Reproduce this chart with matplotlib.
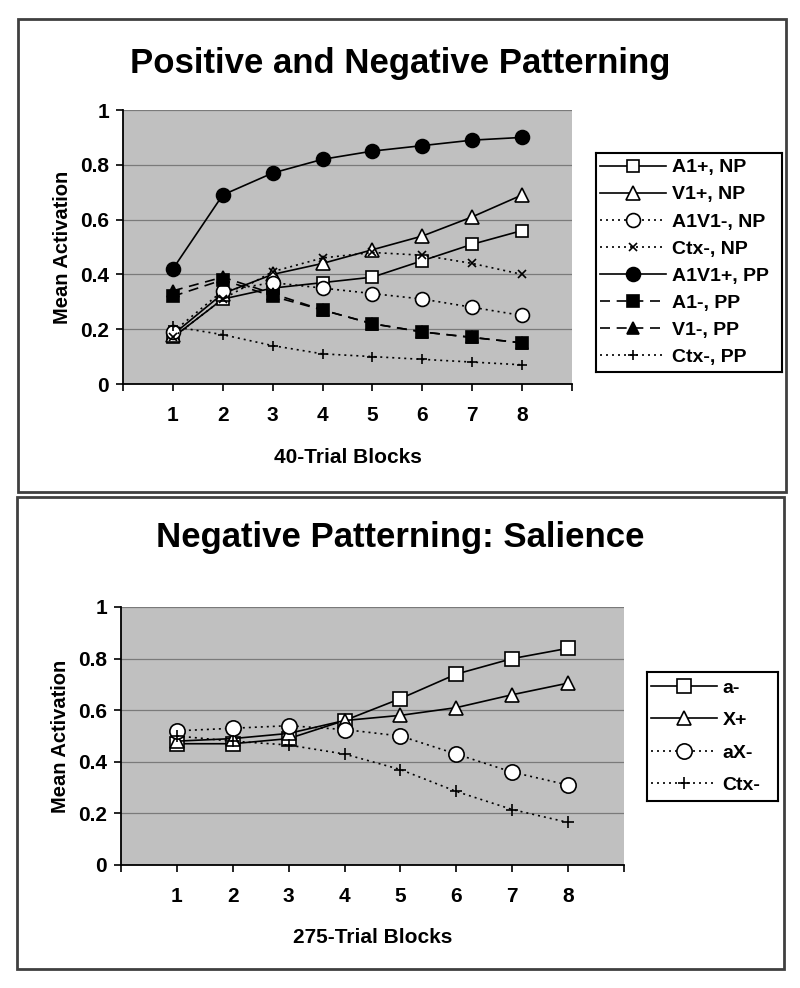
import matplotlib
matplotlib.use('Agg')
import matplotlib.pyplot as plt
from matplotlib.patches import Rectangle

plt.rcParams['font.family'] = ['Liberation Sans', 'DejaVu Sans']
plt.rcParams['font.weight'] = 'bold'

blocks = [1, 2, 3, 4, 5, 6, 7, 8]

# top panel: positive and negative patterning
top_labels = ['A1+, NP', 'V1+, NP', 'A1V1-, NP', 'Ctx-, NP',
              'A1V1+, PP', 'A1-, PP', 'V1-, PP', 'Ctx-, PP']
a1_np = [0.17, 0.31, 0.35, 0.37, 0.39, 0.45, 0.51, 0.56]
v1_np = [0.18, 0.33, 0.40, 0.44, 0.49, 0.54, 0.61, 0.69]
a1v1_np = [0.19, 0.34, 0.37, 0.35, 0.33, 0.31, 0.28, 0.25]
ctx_np = [0.17, 0.31, 0.41, 0.46, 0.48, 0.47, 0.44, 0.40]
a1v1_pp = [0.42, 0.69, 0.77, 0.82, 0.85, 0.87, 0.89, 0.90]
a1_pp = [0.32, 0.38, 0.32, 0.27, 0.22, 0.19, 0.17, 0.15]
v1_pp = [0.34, 0.39, 0.33, 0.27, 0.22, 0.19, 0.17, 0.15]
ctx_pp = [0.21, 0.18, 0.14, 0.11, 0.10, 0.09, 0.08, 0.07]

# bottom panel: salience
bot_labels = ['a-', 'X+', 'aX-', 'Ctx-']
a_minus = [0.47, 0.47, 0.49, 0.56, 0.645, 0.74, 0.80, 0.84]
x_plus = [0.48, 0.49, 0.51, 0.56, 0.58, 0.61, 0.66, 0.705]
ax_minus = [0.52, 0.53, 0.54, 0.525, 0.50, 0.43, 0.36, 0.31]
ctx = [0.50, 0.48, 0.465, 0.43, 0.37, 0.285, 0.215, 0.165]

SOLID = '-'
DOT = (0, (1.2, 2.4))
DASH = (0, (6, 4))

top_styles = [
    (SOLID, 's', 'white', 9),
    (SOLID, '^', 'white', 9.5),
    (DOT, 'o', 'white', 10),
    (DOT, 'x', 'black', 6),
    (SOLID, 'o', 'black', 10),
    (DASH, 's', 'black', 9),
    (DASH, '^', 'black', 9),
    (DOT, '+', 'black', 7),
]
bot_styles = [
    (SOLID, 's', 'white', 10),
    (SOLID, '^', 'white', 10),
    (DOT, 'o', 'white', 11),
    (DOT, '+', 'black', 8),
]

fig = plt.figure(figsize=(8, 9.88), dpi=100)

# outer chart frames
for (x0, y0, x1, y1) in [(18, 19, 786, 492), (17, 497, 784, 969)]:
    fig.patches.append(Rectangle((x0 / 800, 1 - y1 / 988), (x1 - x0) / 800, (y1 - y0) / 988,
                                 transform=fig.transFigure, fill=False,
                                 edgecolor='#404040', linewidth=2))


def draw_panel(ax, series, labels, styles, title, xlabel, legend_box, spacing, title_y, xlabel_y):
    ax.set_facecolor('#c0c0c0')
    for vals, lab, (ls, mk, fc, ms) in zip(series, labels, styles):
        ax.plot(blocks, vals, linestyle=ls, color='black', linewidth=1.2,
                marker=mk, markersize=ms, markerfacecolor=fc,
                markeredgecolor='black', markeredgewidth=1.2, label=lab)
    ax.set_xlim(0, 9)
    ax.set_ylim(0, 1)
    ax.set_xticks(range(0, 10))
    ax.set_xticklabels([''] + [str(b) for b in blocks] + [''], fontsize=15, fontweight='bold')
    ax.set_yticks([0, 0.2, 0.4, 0.6, 0.8, 1])
    ax.set_yticklabels(['0', '0.2', '0.4', '0.6', '0.8', '1'], fontsize=15, fontweight='bold')
    ax.grid(axis='y', color='#7a7a7a', linewidth=0.9)
    ax.set_axisbelow(True)
    for side in ['top', 'right']:
        ax.spines[side].set_visible(False)
    for side in ['left', 'bottom']:
        ax.spines[side].set_linewidth(1.3)
    ax.tick_params(axis='x', length=5, width=1.2, pad=11)
    ax.tick_params(axis='y', length=5, width=1.2, pad=5)
    ax.set_ylabel('Mean Activation', fontsize=14.5, fontweight='bold', labelpad=6)
    fig.text(0.5, 1 - title_y / 988, title, ha='center', va='center',
             fontsize=25, fontweight='bold')
    bb = ax.get_position()
    fig.text((bb.x0 + bb.x1) / 2, 1 - xlabel_y / 988, xlabel, ha='center', va='center',
             fontsize=15, fontweight='bold')
    x0, y0, x1, y1 = legend_box
    lax = fig.add_axes([x0 / 800, 1 - y1 / 988, (x1 - x0) / 800, (y1 - y0) / 988])
    lax.set_xticks([])
    lax.set_yticks([])
    for s in lax.spines.values():
        s.set_linewidth(1.5)
    h, l = ax.get_legend_handles_labels()
    fs_px = 14 * 100 / 72
    lax.legend(h, l, loc='center left', frameon=False, handlelength=66 / fs_px,
               handletextpad=0.3, borderaxespad=0.1, borderpad=0.1,
               labelspacing=spacing, prop={'weight': 'bold', 'size': 14})


ax1 = fig.add_axes([123 / 800, 1 - 384 / 988, 449 / 800, 274 / 988])
draw_panel(ax1, [a1_np, v1_np, a1v1_np, ctx_np, a1v1_pp, a1_pp, v1_pp, ctx_pp],
           top_labels, top_styles, 'Positive and Negative Patterning', '40-Trial Blocks',
           (596, 153, 782, 372), 0.49, 63, 457)

ax2 = fig.add_axes([121 / 800, 1 - 865 / 988, 503 / 800, 258 / 988])
draw_panel(ax2, [a_minus, x_plus, ax_minus, ctx], bot_labels, bot_styles,
           'Negative Patterning: Salience', '275-Trial Blocks',
           (647, 672, 778, 801), 0.76, 537, 937)

fig.savefig('out.png', dpi=100)
